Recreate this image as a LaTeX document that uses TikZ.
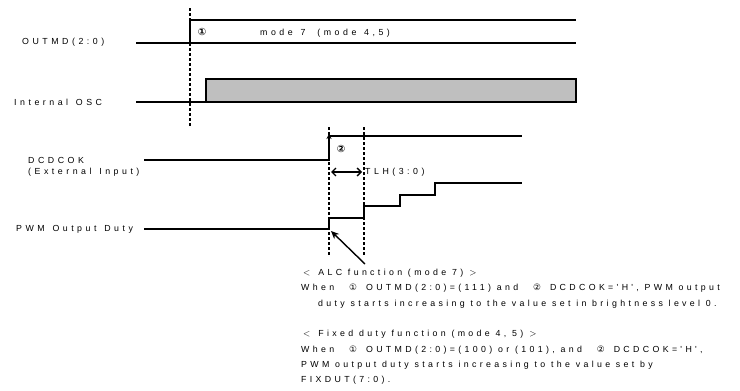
\documentclass[tikz,border=0pt]{standalone}
\usepackage{fontspec}
\setmainfont{Liberation Sans}[LetterSpace=40, WordSpace=1.3]
\newfontfamily\notefont{Liberation Sans}[LetterSpace=38, WordSpace=1.0]
\newfontfamily\circfont{DejaVu Sans}
\newcommand{\circno}[1]{\hspace{15pt}{\circfont #1}\hspace{9pt}}
\newcommand{\fwlt}{\hspace{2pt}$<$\hspace{8pt}}
\newcommand{\fwgt}{\hspace{6pt}$>$}
\usetikzlibrary{arrows.meta, positioning}

\begin{document}
\begin{tikzpicture}[
    x=1pt, y=-1pt,
    font=\fontsize{8.8}{15.3}\selectfont,
    sig/.style={line width=1.4pt},
    edge/.style={line width=2.6pt},
    guide/.style={line width=1.8pt, dash pattern=on 3pt off 2pt},
    lbl/.style={anchor=west, inner sep=0pt},
    circmark/.style={inner sep=0pt, font=\circfont\bfseries\fontsize{10}{10}\selectfont},
    arrow/.style={line width=1.4pt, -{Stealth[length=8pt, width=7pt]}},
    darrow/.style={line width=1.4pt, {Straight Barb[length=4pt]}-{Straight Barb[length=4pt]}}
]
\useasboundingbox (0,0) rectangle (740,391);

% signal names
\node (outmd) [lbl] at (22,42) {OUTMD(2:0)};
\node (osc) [lbl] at (14,102) {Internal OSC};
\node (dcdc) [lbl] at (28,160) {DCDCOK};
\node (ext) [lbl, below=5pt of dcdc.south west, anchor=north west] {(External Input)};
\node (pwm) [lbl] at (16,229) {PWM Output Duty};

% guides
\draw[guide] (190,8) -- (190,126);
\draw[guide] (329,127) -- (329,255);
\draw[guide] (364,127) -- (364,255);

% OUTMD(2:0)
\draw[sig] (136,43) -- (576,43);
\draw[sig] (190,20) -- (576,20);
\draw[edge] (190,43) -- (190,19);
\node (one) [circmark] at (202,32) {①};
\node (mode) [lbl] at (260,33) {mode 7\hspace{12pt}(mode 4,5)};

% Internal OSC
\draw[sig] (136,102) -- (206,102);
\draw[sig, fill=black!25] (206,102) -- (206,79) -- (576,79) -- (576,102) -- cycle;

% DCDCOK
\draw[sig] (144,160) -- (329,160);
\draw[sig] (329,136) -- (522,136);
\draw[edge, -{Stealth[length=5pt, width=5pt]}] (329,161) -- (329,134);
\node (two) [circmark] at (341,149) {②};
\draw[darrow] (331,172) -- (362,172);
\node (tlh) [lbl] at (365,172) {TLH(3:0)};

% PWM Output Duty
\draw[sig] (144,229) -- (329,229);
\draw[sig] (329,218) -- (364,218) -- (364,206) -- (400,206) -- (400,195)
  -- (435,195) -- (435,183) -- (522,183);
\draw[edge] (329,230) -- (329,217);
\draw[edge] (364,219) -- (364,205);

% notes
\node (notes) [anchor=north west, inner sep=0pt, align=left, font=\notefont\fontsize{8.8}{15.3}\selectfont] at (301,269) {%
  \fwlt ALC function (mode 7)\fwgt\\
  When\circno{①}OUTMD(2:0)=(111) and\circno{②}DCDCOK='H', PWM output\\
  \hspace{17pt}duty starts increasing to the value set in brightness level 0.\\
  \\
  \fwlt Fixed duty function (mode 4, 5)\fwgt\\
  When\circno{①}OUTMD(2:0)=(100) or (101), and\circno{②}DCDCOK='H',\\
  PWM output duty starts increasing to the value set by\\
  FIXDUT(7:0).};
\coordinate (tip) at (365,264);
\draw[arrow] (tip) -- (331,231);
\end{tikzpicture}
\end{document}
